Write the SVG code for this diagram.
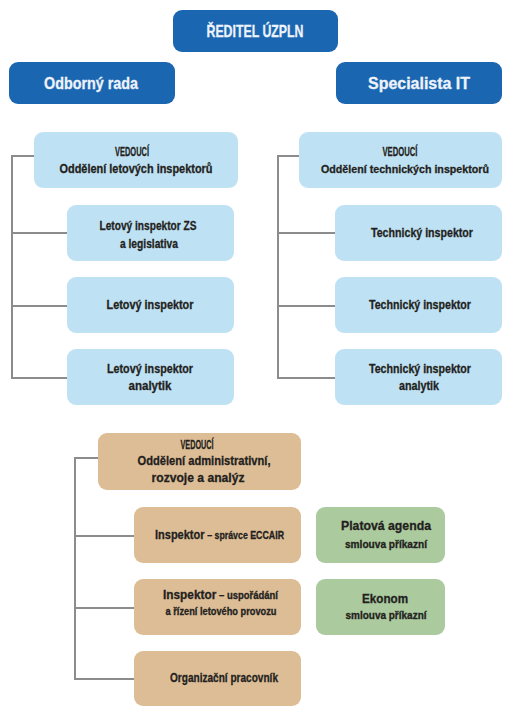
<svg xmlns="http://www.w3.org/2000/svg" width="506" height="709" viewBox="0 0 506 709">
<style>
text{font-family:"Liberation Sans","Noto Sans",sans-serif;font-weight:bold;text-anchor:middle;fill:#231f20;stroke:#231f20;stroke-width:0.3}
.hd rect{fill:#1b66b1}
.hd text{fill:#eef3fa;stroke:#eef3fa;font-size:16.5px}
.lb rect{fill:#bfe1f4}
.tn rect{fill:#ddbd96}
.gr rect{fill:#abca9d}
.b{font-size:12.5px}
.s{font-size:10px}
#connectors path{fill:none;stroke:#8c8c8c;stroke-width:2}
</style>
<rect width="506" height="709" fill="#ffffff"/>
<g id="connectors">
<path d="M34,156 H12 V378 H67 M12,233 H67 M12,306 H67"/>
<path d="M299,156 H278 V378 H335 M278,233 H335 M278,306 H335"/>
<path d="M98,458 H75 V679 H134 M75,536 H134 M75,608 H134"/>
</g>
<g id="reditel" class="hd"><rect x="173" y="10" width="165" height="42" rx="9"/><text x="255" y="37" textLength="97" lengthAdjust="spacingAndGlyphs">ŘEDITEL ÚZPLN</text></g>
<g id="odborny" class="hd"><rect x="9" y="62" width="166" height="42" rx="9"/><text x="91" y="89" textLength="94" lengthAdjust="spacingAndGlyphs">Odborný rada</text></g>
<g id="specialista" class="hd"><rect x="336" y="62" width="166" height="42" rx="9"/><text x="419" y="89" textLength="102" lengthAdjust="spacingAndGlyphs">Specialista IT</text></g>

<g id="vedouci-let" class="lb"><rect x="34" y="132" width="204" height="56" rx="9"/><text class="b" x="132" y="156" textLength="34" lengthAdjust="spacingAndGlyphs">VEDOUCÍ</text><text class="b" x="136" y="173" textLength="153" lengthAdjust="spacingAndGlyphs">Oddělení letových inspektorů</text></g>
<g id="let-zs" class="lb"><rect x="67" y="205" width="167" height="56" rx="9"/><text class="b" x="148" y="230" textLength="97" lengthAdjust="spacingAndGlyphs">Letový inspektor ZS</text><text class="b" x="149" y="248" textLength="58" lengthAdjust="spacingAndGlyphs">a legislativa</text></g>
<g id="let-insp" class="lb"><rect x="67" y="277" width="167" height="56" rx="9"/><text class="b" x="150" y="309" textLength="87" lengthAdjust="spacingAndGlyphs">Letový inspektor</text></g>
<g id="let-anal" class="lb"><rect x="67" y="349" width="167" height="56" rx="9"/><text class="b" x="150" y="373" textLength="86" lengthAdjust="spacingAndGlyphs">Letový inspektor</text><text class="b" x="150" y="390" textLength="43" lengthAdjust="spacingAndGlyphs">analytik</text></g>

<g id="vedouci-tech" class="lb"><rect x="299" y="132" width="203" height="56" rx="9"/><text class="b" x="400" y="156" textLength="35" lengthAdjust="spacingAndGlyphs">VEDOUCÍ</text><text x="405" y="173" style="font-size:11.5px" textLength="168" lengthAdjust="spacingAndGlyphs">Oddělení technických inspektorů</text></g>
<g id="tech1" class="lb"><rect x="335" y="205" width="167" height="56" rx="9"/><text class="b" x="422" y="237" textLength="102" lengthAdjust="spacingAndGlyphs">Technický inspektor</text></g>
<g id="tech2" class="lb"><rect x="335" y="277" width="167" height="56" rx="9"/><text class="b" x="420" y="309" textLength="102" lengthAdjust="spacingAndGlyphs">Technický inspektor</text></g>
<g id="tech-anal" class="lb"><rect x="335" y="349" width="167" height="56" rx="9"/><text class="b" x="420" y="373" textLength="102" lengthAdjust="spacingAndGlyphs">Technický inspektor</text><text class="b" x="419" y="390" textLength="40" lengthAdjust="spacingAndGlyphs">analytik</text></g>

<g id="vedouci-adm" class="tn"><rect x="98" y="433" width="203" height="57" rx="9"/><text class="b" x="197" y="449" textLength="33" lengthAdjust="spacingAndGlyphs">VEDOUCÍ</text><text class="b" x="204" y="465" textLength="133" lengthAdjust="spacingAndGlyphs">Oddělení administrativní,</text><text class="b" x="198" y="482" textLength="93" lengthAdjust="spacingAndGlyphs">rozvoje a analýz</text></g>
<g id="eccair" class="tn"><rect x="134" y="507" width="167" height="56" rx="9"/><text x="155" y="539" style="text-anchor:start" textLength="129" lengthAdjust="spacingAndGlyphs"><tspan class="b">Inspektor</tspan><tspan class="s" dx="3">– správce ECCAIR</tspan></text></g>
<g id="usporadani" class="tn"><rect x="134" y="579" width="167" height="56" rx="9"/><text x="163" y="599" style="text-anchor:start" textLength="115" lengthAdjust="spacingAndGlyphs"><tspan class="b">Inspektor</tspan><tspan class="s" dx="3">– uspořádání</tspan></text><text class="s" x="221" y="615" textLength="111" lengthAdjust="spacingAndGlyphs">a řízení letového provozu</text></g>
<g id="organizacni" class="tn"><rect x="134" y="651" width="167" height="55" rx="9"/><text class="b" x="224" y="682" textLength="108" lengthAdjust="spacingAndGlyphs">Organizační pracovník</text></g>

<g id="platova" class="gr"><rect x="316" y="507" width="129" height="56" rx="9"/><text class="b" x="386" y="530" textLength="90" lengthAdjust="spacingAndGlyphs">Platová agenda</text><text class="s" x="386" y="548" textLength="82" lengthAdjust="spacingAndGlyphs">smlouva příkazní</text></g>
<g id="ekonom" class="gr"><rect x="316" y="579" width="129" height="56" rx="9"/><text class="b" x="385" y="603" textLength="46" lengthAdjust="spacingAndGlyphs">Ekonom</text><text class="s" x="386" y="619" textLength="81" lengthAdjust="spacingAndGlyphs">smlouva příkazní</text></g>
</svg>
